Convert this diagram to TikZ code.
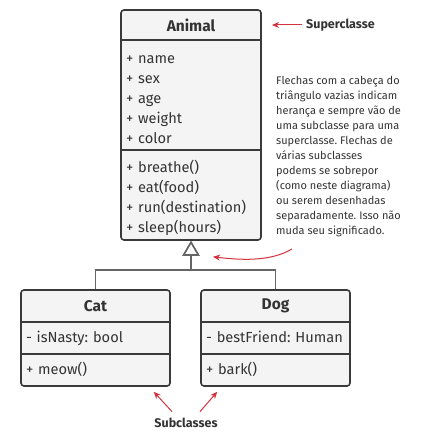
\documentclass[tikz,border=0pt]{standalone}
\usepackage{fontspec}
\setmainfont{Fira Sans}
\usetikzlibrary{arrows.meta,positioning,calc,fit,backgrounds}

\definecolor{umlline}{HTML}{3A3A3A}
\definecolor{umlfill}{HTML}{F4F4F4}
\definecolor{linkgray}{HTML}{666666}
\definecolor{callred}{HTML}{D3313C}
\definecolor{txt}{HTML}{333333}

\begin{document}
\frenchspacing
\begin{tikzpicture}[
  x=1pt,y=-1pt,
  text=txt,
  >={Stealth[length=7pt,width=6pt]},
  classbox/.style={draw=umlline,line width=1.6pt,rounded corners=3pt,
                   fill=umlfill,inner sep=0pt},
  head/.style={font=\fontsize{15.5}{18}\selectfont\bfseries,
               inner sep=0pt,outer sep=0pt},
  members/.style={font=\fontsize{14.6}{20}\selectfont,align=left,
                  inner xsep=5pt,inner ysep=0pt,outer sep=0pt,
                  execute at begin node=\strut,execute at end node=\strut},
  memberlist/.style={font=\fontsize{14.6}{20}\selectfont,align=left,
                  inner xsep=5pt,inner ysep=0pt,outer sep=0pt,
                  execute at begin node=\rule{0pt}{18pt}},
  sep/.style={draw=umlline,line width=1.6pt},
  inherit/.style={draw=linkgray,line width=1.6pt,
                  -{Triangle[open,fill=white,length=15pt,width=17pt]}},
  callout/.style={->,draw=callred,line width=1pt},
  lab/.style={font=\fontsize{12.5}{15}\selectfont\bfseries},
  note/.style={font=\fontsize{11}{15}\selectfont,align=left,inner sep=0pt}
]
\useasboundingbox (0,0) rectangle (423,435);

% ---- superclasse ----
\node[head,minimum width=140pt,minimum height=30pt] (animalhead) at (191,25) {Animal};
\node[memberlist,minimum width=140pt,text width=130pt,minimum height=110pt,
      below=0pt of animalhead] (animalattr)
  {+ name\\+ sex\\+ age\\+ weight\\+ color};
\node[memberlist,minimum width=140pt,text width=130pt,minimum height=90pt,
      below=0pt of animalattr] (animalops)
  {+ breathe()\\+ eat(food)\\+ run(destination)\\+ sleep(hours)};

% ---- subclasses ----
\node[head,minimum width=149pt,minimum height=32pt] (cathead) at (95.5,306) {Cat};
\node[members,minimum width=149pt,text width=139pt,minimum height=32pt,
      below=0pt of cathead] (catattr) {- isNasty: bool};
\node[members,minimum width=149pt,text width=139pt,minimum height=32pt,
      below=0pt of catattr] (catops) {+ meow()};

\node[head,minimum width=149pt,minimum height=32pt] (doghead) at (275.5,306) {Dog};
\node[members,minimum width=149pt,text width=139pt,minimum height=32pt,
      below=0pt of doghead] (dogattr) {- bestFriend: Human};
\node[members,minimum width=149pt,text width=139pt,minimum height=32pt,
      below=0pt of dogattr] (dogops) {+ bark()};

% caixas das classes
\begin{scope}[on background layer]
  \node[classbox,fit=(animalhead)(animalattr)(animalops)] (animal) {};
  \node[classbox,fit=(cathead)(catattr)(catops)] (cat) {};
  \node[classbox,fit=(doghead)(dogattr)(dogops)] (dog) {};
\end{scope}
\foreach \part in {animalattr,animalops,catattr,catops,dogattr,dogops}
  \draw[sep] (\part.north west) -- (\part.north east);

% ---- heranca ----
\coordinate (joint) at ($(animal.south)+(0,29)$);
\draw[inherit] (cat.north) |- (joint) -- (animal.south);
\draw[inherit] (dog.north) |- (joint) -- (animal.south);

% ---- anotacoes ----
\node[lab,anchor=west,inner sep=0pt] (superlbl) at (306,25) {Superclasse};
\draw[callout] ($(superlbl.west)+(-4,0)$) -- ($(animalhead.east)+(11,0)$);

\node[note,anchor=north west] (explain) at (276,76)
  {Flechas com a cabeça do\\triângulo vazias indicam\\herança e sempre vão de\\
   uma subclasse para uma\\superclasse. Flechas de\\várias subclasses\\
   podems se sobrepor\\(como neste diagrama)\\ou serem desenhadas\\
   separadamente. Isso não\\muda seu significado.};
\coordinate (curvestart) at (292,249);
\draw[callout] (curvestart) .. controls (270,262) and (240,260) .. ($(animal.south)+(22,16)$);

\node[lab] (sublbl) at (186,423) {Subclasses};
\draw[callout] ($(sublbl.north)+(-14,-3)$) -- ($(cat.south east)+(-17,5)$);
\draw[callout] ($(sublbl.north)+(14,-3)$) -- ($(dog.south west)+(17,5)$);

\end{tikzpicture}
\end{document}
